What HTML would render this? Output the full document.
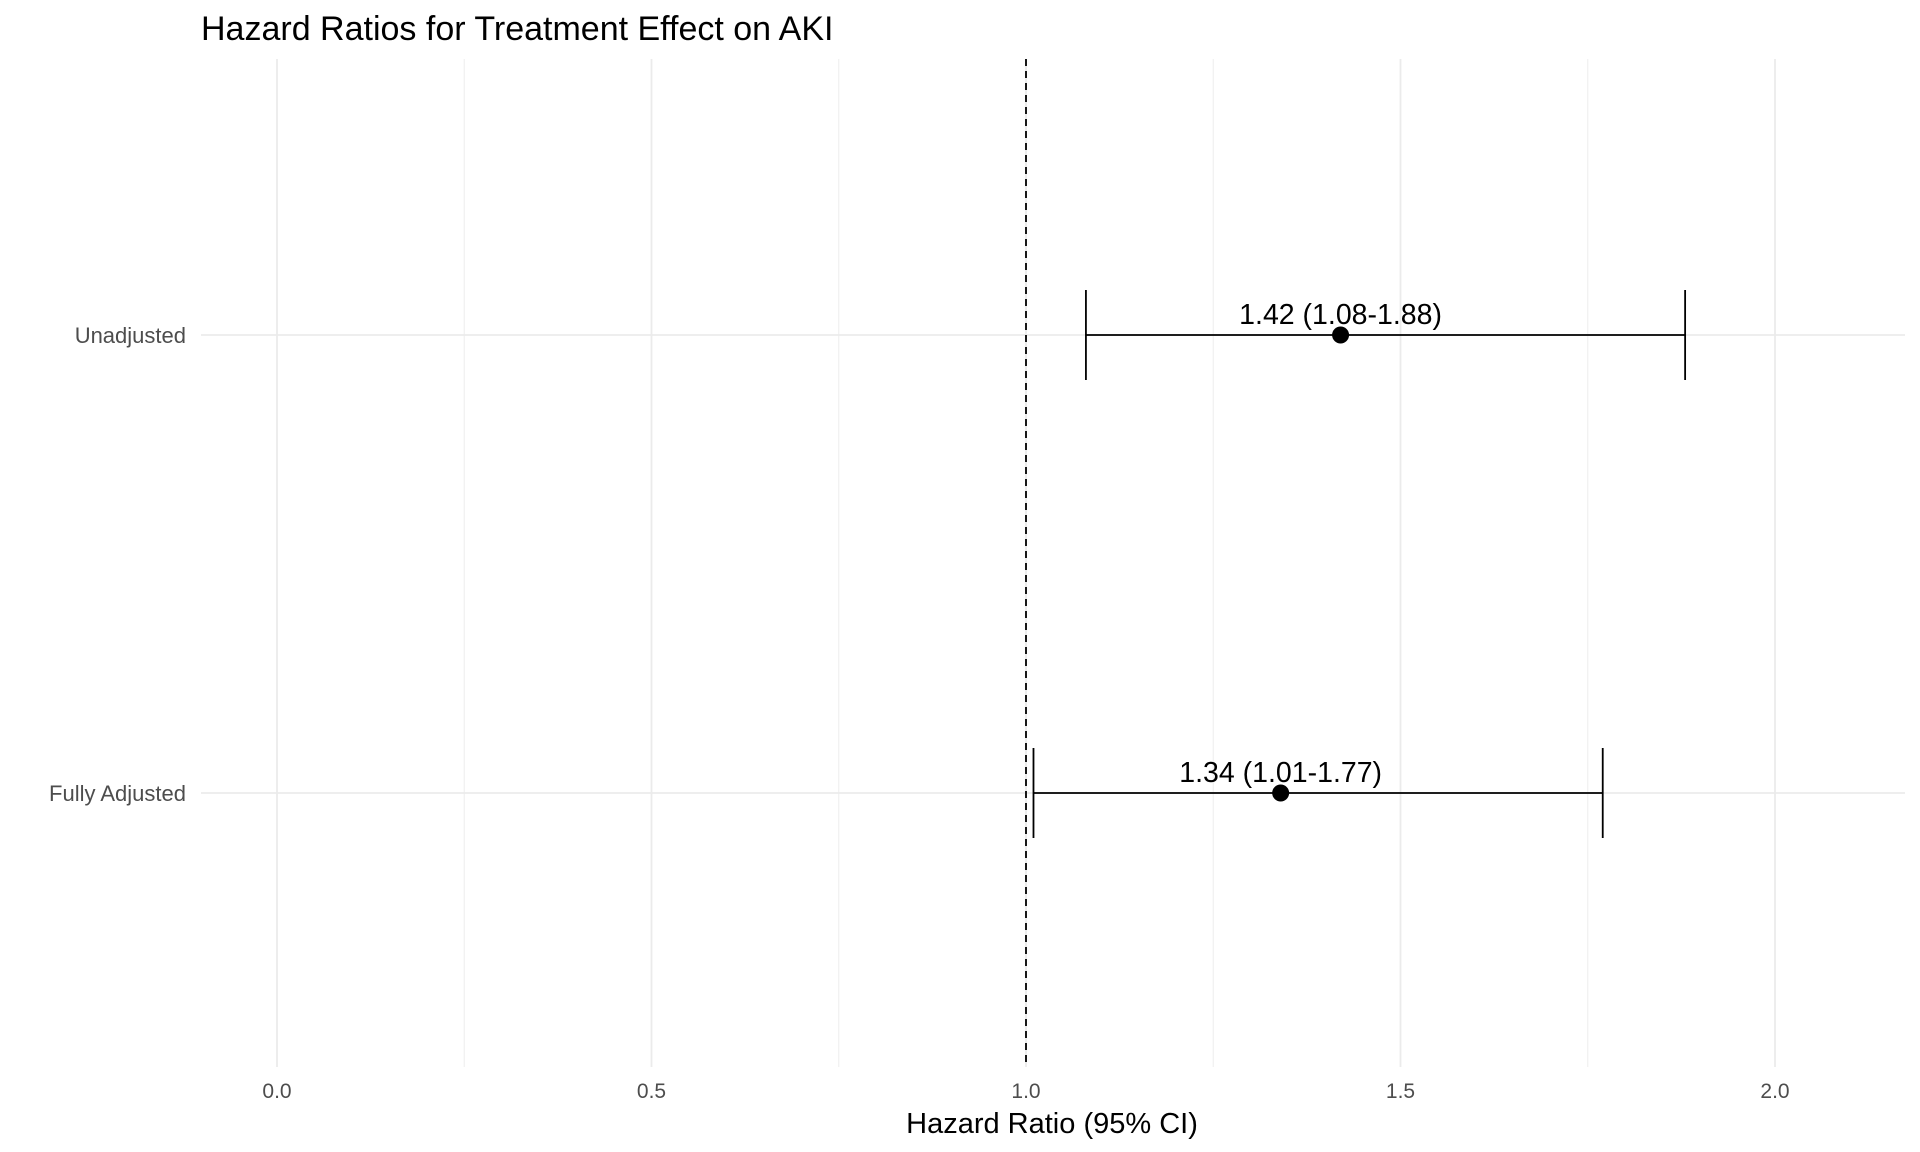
<!DOCTYPE html>
<html><head><meta charset="utf-8"><style>
body{margin:0;background:#fff;}
svg{display:block;font-family:"Liberation Sans",Arial,sans-serif;}
</style></head><body>
<svg id="chart" width="1920" height="1152">
<text x="201" y="40" font-size="34" fill="#000">Hazard Ratios for Treatment Effect on AKI</text>
<g id="grid"></g><g id="marks"></g><g id="axes"></g>
<text x="1052" y="1133" font-size="29" text-anchor="middle" fill="#000">Hazard Ratio (95% CI)</text>
</svg>
<script>
const categories=["Unadjusted","Fully Adjusted"];
const hr=[1.42,1.34];
const lower=[1.08,1.01];
const upper=[1.88,1.77];
const labels=["1.42 (1.08-1.88)","1.34 (1.01-1.77)"];
const xTicks=[0,0.5,1,1.5,2];
const xTickLabels=["0.0","0.5","1.0","1.5","2.0"];
const xMinor=[0.25,0.75,1.25,1.75];
const refLine=1.0;
const NS="http://www.w3.org/2000/svg";
const panel={l:201,r:1905,t:59,b:1067};
const x=v=>277+v*749;
const yPos=[335,793];
const y=i=>yPos[i];
function mk(tag,attrs,parent){const e=document.createElementNS(NS,tag);for(const k in attrs)e.setAttribute(k,attrs[k]);document.getElementById(parent).appendChild(e);return e;}
xMinor.forEach(v=>{const e=mk('line',{x1:x(v),x2:x(v),y1:panel.t,y2:panel.b,stroke:'#f0f0f0','stroke-width':1.2},'grid');

});
xTicks.forEach((v,i)=>{const e=mk('line',{x1:x(v),x2:x(v),y1:panel.t,y2:panel.b,stroke:'#ebebeb','stroke-width':1.8},'grid');


const t=mk('text',{x:x(v),y:1098,'font-size':21,'text-anchor':'middle',fill:'#4d4d4d'},'axes');t.textContent=xTickLabels[i];

});
categories.forEach((c,i)=>{const e=mk('line',{x1:panel.l,x2:panel.r,y1:y(i),y2:y(i),stroke:'#ebebeb','stroke-width':1.8},'grid');


const t=mk('text',{x:186,y:y(i)+8,'font-size':22,'text-anchor':'end',fill:'#4d4d4d'},'axes');t.textContent=c;

});
const d=mk('line',{x1:x(refLine),x2:x(refLine),y1:panel.t,y2:panel.b,stroke:'#000','stroke-width':1.8,'stroke-dasharray':'7,5'},'marks');


categories.forEach((c,i)=>{
const h=mk('line',{x1:x(lower[i]),x2:x(upper[i]),y1:y(i),y2:y(i),stroke:'#000','stroke-width':1.8},'marks');


[lower[i],upper[i]].forEach(v=>{const cap=mk('line',{x1:x(v),x2:x(v),y1:y(i)-45,y2:y(i)+45,stroke:'#000','stroke-width':1.8},'marks');

});
const p=mk('circle',{cx:x(hr[i]),cy:y(i),r:8.5,fill:'#000'},'marks');


const t=mk('text',{x:x(hr[i]),y:y(i)-11,'font-size':28.5,'text-anchor':'middle',fill:'#000'},'marks');t.textContent=labels[i];


});
</script>
</body></html>
